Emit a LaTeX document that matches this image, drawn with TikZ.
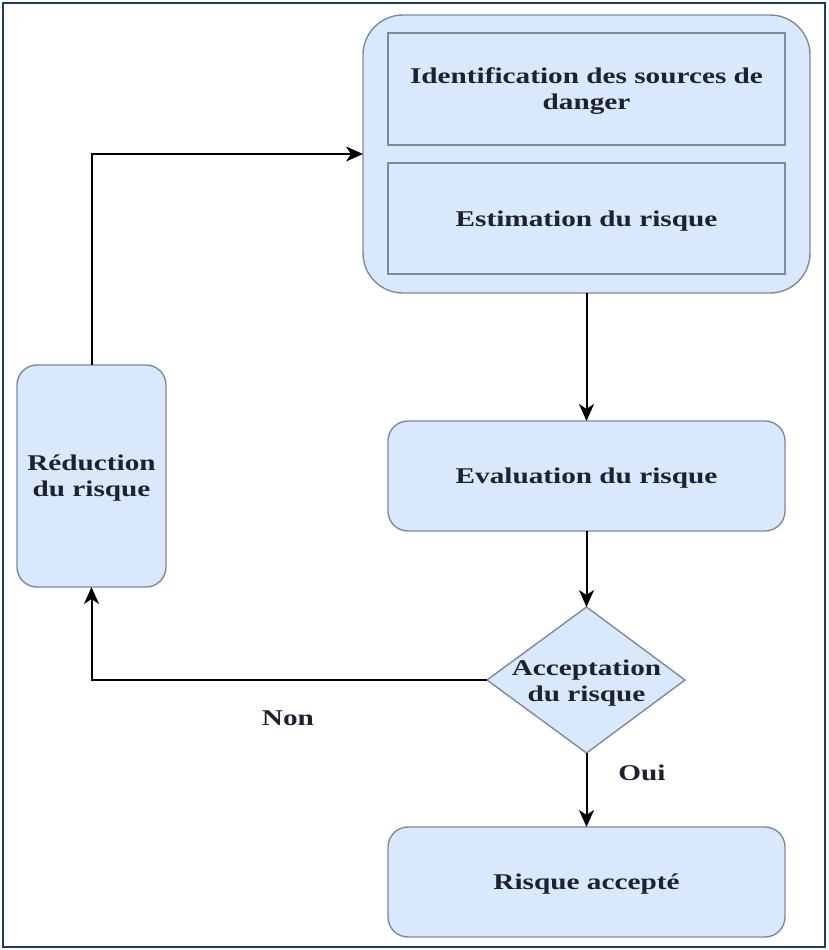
\documentclass[tikz,border=0pt]{standalone}
\usepackage{fontspec}
\setmainfont{Liberation Serif}[FakeStretch=1.3]
\usetikzlibrary{arrows.meta}
\definecolor{boxfill}{HTML}{DAE8FC}
\definecolor{boxline}{HTML}{7C8BA1}
\definecolor{txtcol}{HTML}{1E2230}
\definecolor{framecol}{HTML}{1F3A68}
\begin{document}
\begin{tikzpicture}[x=1pt,y=-1pt,
  every node/.style={font=\fontsize{22.5}{26}\selectfont\bfseries, text=txtcol, text depth=0pt},
  boxst/.style={draw=boxline, fill=boxfill, line width=1.4pt, inner sep=0pt, outer sep=0pt},
  rbox/.style={boxst, rounded corners=20pt, minimum width=397pt, minimum height=110pt, align=center},
  sqbox/.style={boxst, minimum width=397pt, minimum height=111pt, align=center},
  arr/.style={line width=2pt, draw=black, -{Stealth[length=17pt,width=15pt,inset=5pt]}},
  lbl/.style={inner sep=0pt}
]
\useasboundingbox (0,0) rectangle (828,950);
\fill[white] (0,0) rectangle (828,950);
\draw[framecol, line width=2.5pt] (3,3) rectangle (825,947);

\node[boxst, rounded corners=40pt, minimum width=447pt, minimum height=278pt] (cont) at (586.5,154) {};
\node[sqbox, minimum height=112pt] (ident) at (586.5,89) {Identification des sources de\\danger};
\node[sqbox] (estim) at (586.5,218.5) {Estimation du risque};
\node[rbox] (eval) at (586.5,476) {Evaluation du risque};
\node[rbox] (ris) at (586.5,882) {Risque accept\'e};
\node[boxst, rounded corners=20pt, minimum width=149pt, minimum height=222pt, align=center] (red) at (91.5,476) {R\'eduction\\du risque};

\coordinate (acct) at (586.5,607);
\coordinate (accr) at (685,680);
\coordinate (accb) at (586.5,753);
\coordinate (accl) at (487,680);
\draw[boxst] (acct) -- (accr) -- (accb) -- (accl) -- cycle;
\node[align=center, inner sep=0pt] (acc) at (586.5,681) {Acceptation\\du risque};

\draw[arr] (red.north) |- (cont.west);
\draw[arr] (cont.south) -- (eval.north);
\draw[arr] (eval.south) -- (acct);
\draw[arr] (accl) -| (red.south);
\draw[arr] (accb) -- (ris.north);

\node[lbl] (non) at (288,718) {Non};
\node[lbl] (oui) at (642,773) {Oui};
\end{tikzpicture}
\end{document}
